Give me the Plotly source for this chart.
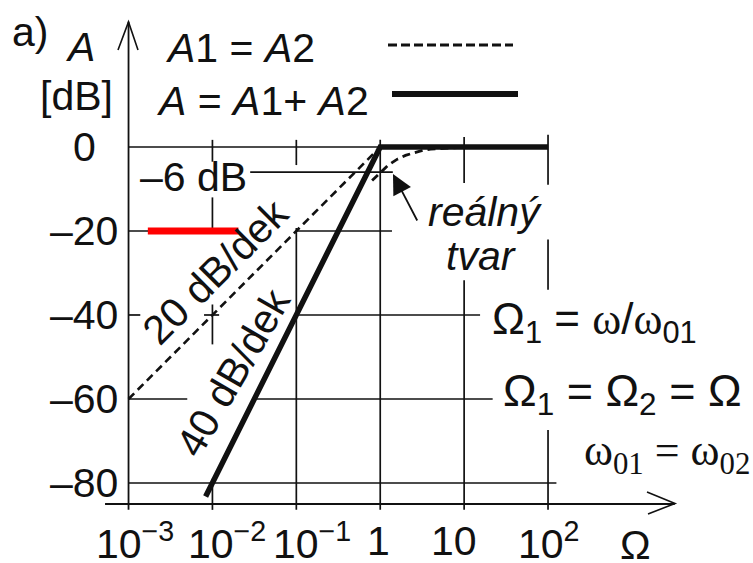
import plotly.graph_objects as go

W, H = 753, 563

# --- chart values -----------------------------------------------------------
# decade ticks on the Omega axis and dB ticks on the A axis
omega_ticks = [1e-3, 1e-2, 1e-1, 1, 10, 100]
omega_tick_text = ["10<sup>−3</sup>", "10<sup>−2</sup>", "10<sup>−1</sup>", "1", "10", "10<sup>2</sup>"]
db_ticks = [0, -20, -40, -60, -80]
db_tick_text = ["0", "–20", "–40", "–60", "–80"]

# asymptote of one section, A1 = A2 (20 dB/dek up to Omega = 1, then flat)
omega_a1 = [0.001, 1, 100]
a1_db = [-60, 0, 0]

# asymptote of the sum, A = A1 + A2 (40 dB/dek up to Omega = 1, then flat)
omega_sum = [0.0083, 1, 100]
sum_db = [-83.2, 0, 0]

# real shape of the response near the corner frequency
omega_real = [0.8, 0.9, 1.0, 1.25, 1.6, 2.0, 2.5, 3.2, 4.0, 5.5, 7.5, 10]
real_db = [-8.0, -7.0, -6.0, -4.3, -2.9, -2.0, -1.4, -0.8, -0.5, -0.3, -0.15, -0.05]

# highlighted -20 dB stretch
omega_mark = [10 ** -2.77, 10 ** -1.69]
mark_db = [-20, -20]

# axis ranges (log10 of Omega, dB)
X_RANGE = [-4.532, 4.443]
Y_RANGE = [-99.05, 35.0]
AXIS_DB = -85.0
TOP_DB = 29.8


def px(x):
    return x / W


def py(y):
    return 1 - y / H


fig = go.Figure()

INK = "#111111"


def seg(xs, ys, width=1.7, color=INK, dash=None):
    fig.add_trace(go.Scatter(
        x=xs, y=ys, mode="lines", hoverinfo="skip", showlegend=False,
        line=dict(color=color, width=width, dash=dash)))


# grid: horizontal pieces (dB level, from decade, to decade)
h_grid = [
    (0, -3, 0),
    (-6, -1.55, 0.15),
    (-20, -3, -1.7), (-20, -1.0, 0.14),
    (-40, -3, -2.86), (-40, -2.1, -1.92), (-40, -1.0, 1.19),
    (-60, -3, -2.3), (-60, -1.47, 1.34),
    (-80, -3, 2.1),
]
for lvl, e0, e1 in h_grid:
    seg([10 ** e0, 10 ** e1], [lvl, lvl])

# grid: vertical pieces (decade, from dB, to dB)
v_grid = [
    (-2, 1.7, -3.5), (-2, -12, -19.8), (-2, -37.5, -47), (-2, -79, -86.4),
    (-1, 1.7, -4.3), (-1, -19.3, -86.4),
    (0, 1.7, -86.4),
    (1, 2.4, -8.6), (1, -31.7, -86.4),
    (2, 2.9, -9), (2, -22, -34), (2, -67.4, -86.4),
]
for e, d0, d1 in v_grid:
    seg([10 ** e, 10 ** e], [d0, d1])

# axes
seg([10 ** -3.28, 10 ** 3.51], [AXIS_DB, AXIS_DB], width=1.8)
seg([1e-3, 1e-3], [-86.4, TOP_DB], width=1.8)

# curves
seg(omega_mark, mark_db, width=7, color="#ff0000")
seg(omega_a1, a1_db, width=2.6, color=INK, dash="8px,5px")
seg(omega_real, real_db, width=2.8, color=INK, dash="8px,5px")
seg(omega_sum, sum_db, width=5.5, color=INK)

# legend samples
fig.add_shape(type="line", xref="paper", yref="paper",
              x0=px(388), x1=px(513), y0=py(45), y1=py(45),
              line=dict(color=INK, width=3, dash="9px,4px"))
fig.add_shape(type="line", xref="paper", yref="paper",
              x0=px(392), x1=px(518), y0=py(94), y1=py(94),
              line=dict(color=INK, width=6))

# open arrowheads on the axes
fig.add_shape(type="path", xref="paper", yref="paper",
              path=f"M {px(118)},{py(50)} L {px(128.5)},{py(22)} L {px(138)},{py(50)}",
              line=dict(color=INK, width=1.6))
fig.add_shape(type="path", xref="paper", yref="paper",
              path=f"M {px(647)},{py(492)} L {px(675)},{py(503.5)} L {px(648)},{py(514)}",
              line=dict(color=INK, width=1.6))

SANS = "Liberation Sans, Arial, sans-serif"
SERIF = "Liberation Serif, Times New Roman, serif"
FS = 41


def label(text, x, y, size=FS, family=SANS, xanchor="center", angle=0):
    fig.add_annotation(text=text, x=px(x), y=py(y), xref="paper", yref="paper",
                       xanchor=xanchor, yanchor="middle", showarrow=False,
                       borderpad=0, textangle=angle,
                       font=dict(family=family, size=size, color=INK))


# tick labels
for v, t in zip(db_ticks, db_tick_text):
    y = 147 - 4.2 * v
    if v == 0:
        label(t, 84, y)
    else:
        label(t, 119, y, xanchor="right")

x_label_pos = [135, 227, 312, 378, 454, 549]
for v, t, xp in zip(omega_ticks, omega_tick_text, x_label_pos):
    label(t, xp, 541)
label("Ω", 635, 545)

# titles and notes
label("a)", 30, 32)
label("<i>A</i>", 80, 47)
label("[dB]", 76, 96)
label("<i>A</i>1 = <i>A</i>2", 240, 48)
label("<i>A</i> = <i>A</i>1+ <i>A</i>2", 262, 101)
label("–6 dB", 193, 177)
label("<i>reálný</i>", 485, 212)
label("<i>tvar</i>", 481, 256)
label("20 dB/dek", 215, 272, angle=-45)
label("40 dB/dek", 233, 373, angle=-60)

om = f"<span style='font-family:{SERIF}'>ω</span>"
label(f"Ω<sub>1</sub> = {om}/{om}<sub>01</sub>", 594, 322, size=44)
label("Ω<sub>1</sub> = Ω<sub>2</sub> = Ω", 622, 393, size=45)
label("ω<sub>01</sub> = ω<sub>02</sub>", 667, 453, size=44, family=SERIF)

# pointer to the real shape
fig.add_annotation(x=px(393), y=py(174), xref="paper", yref="paper",
                   ax=25, ay=48, text="", showarrow=True,
                   arrowhead=2, arrowsize=2.2, arrowwidth=1.8, arrowcolor=INK)

fig.update_layout(
    width=W, height=H,
    margin=dict(l=0, r=0, t=0, b=0),
    paper_bgcolor="white", plot_bgcolor="white",
    showlegend=False,
    xaxis=dict(type="log", range=X_RANGE, visible=False, fixedrange=True),
    yaxis=dict(range=Y_RANGE, visible=False, fixedrange=True),
)

fig.write_html("out.html")
